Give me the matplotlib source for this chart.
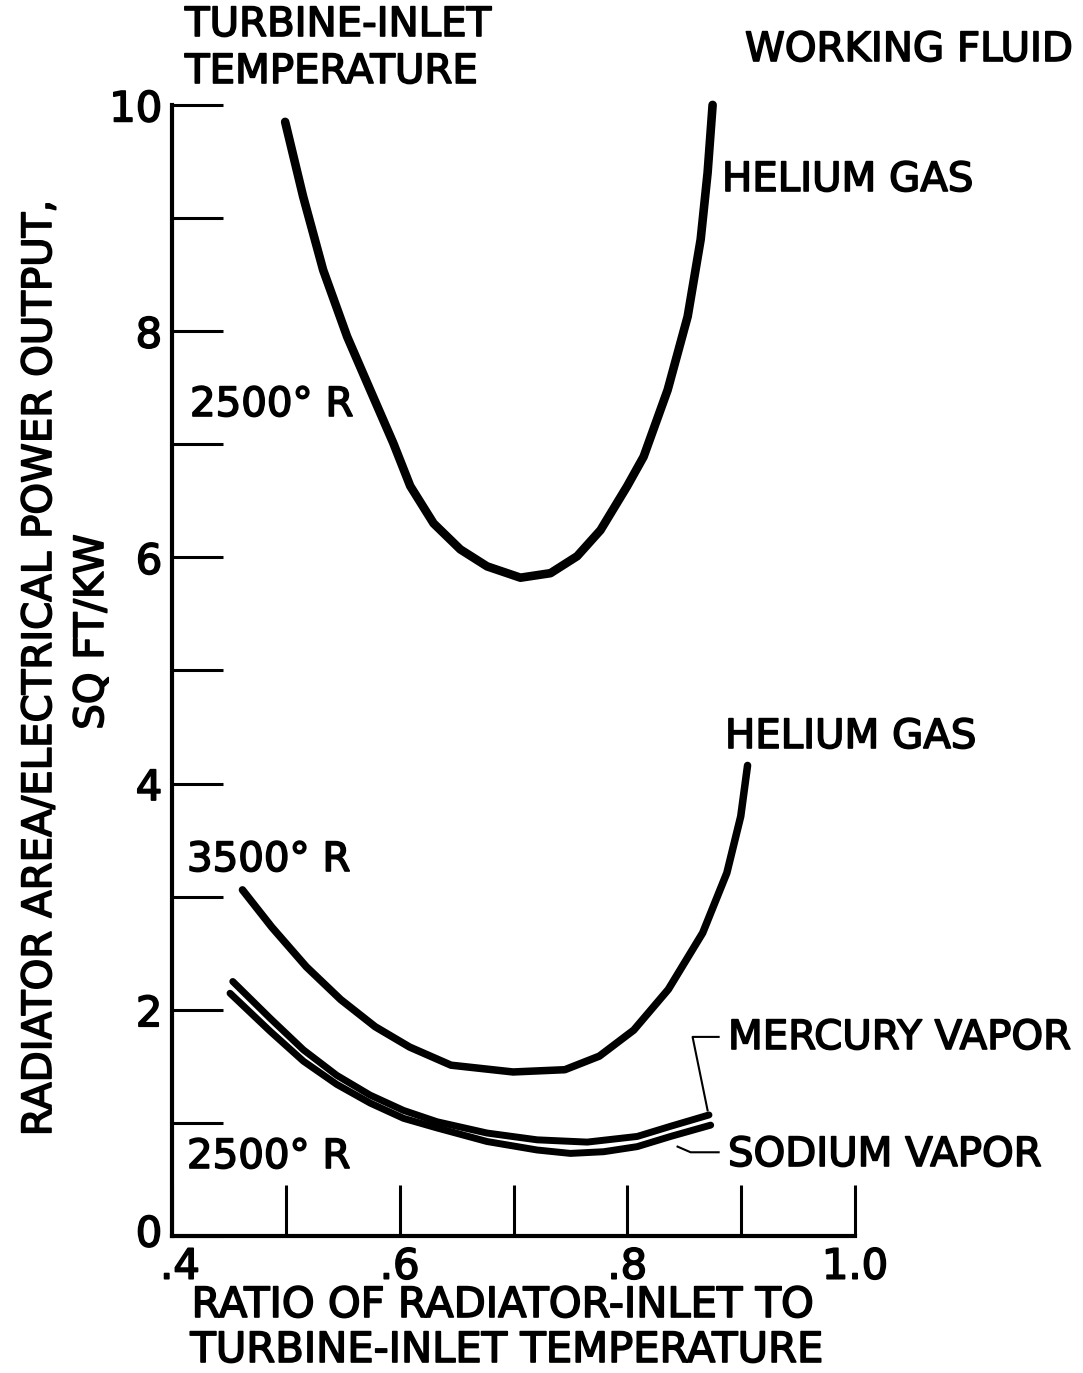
import numpy as np
import matplotlib
matplotlib.use("Agg")
from matplotlib import pyplot as plt
import matplotlib.patheffects as pe
import matplotlib.transforms as mtransforms

# curves: x = radiator-inlet / turbine-inlet temperature
# y = radiator area / electrical power output, sq ft/kw
he_2500_x = [0.4994, 0.5152, 0.5328, 0.5539, 0.5741, 0.5944, 0.6093, 0.6298,
             0.6533, 0.6768, 0.7061, 0.7325, 0.7559, 0.7764, 0.7999, 0.8143,
             0.8354, 0.8530, 0.8644, 0.8705, 0.8749]
he_2500_y = [9.85, 9.19, 8.54, 7.95, 7.48, 7.01, 6.63, 6.30,
             6.07, 5.92, 5.82, 5.86, 6.01, 6.24, 6.63, 6.89,
             7.48, 8.13, 8.81, 9.40, 10.0]

he_3500_x = [0.4619, 0.4877, 0.5180, 0.5482, 0.5785, 0.6088, 0.6451, 0.6996,
             0.7451, 0.7754, 0.8056, 0.8360, 0.8662, 0.8874, 0.8996, 0.9056]
he_3500_y = [3.06, 2.73, 2.38, 2.09, 1.85, 1.67, 1.51, 1.45,
             1.47, 1.59, 1.82, 2.18, 2.68, 3.21, 3.71, 4.16]

hg_x = [0.4534, 0.4862, 0.5155, 0.5448, 0.5741, 0.6034, 0.6328, 0.6768,
        0.7208, 0.7647, 0.8087, 0.8380, 0.8717]
hg_y = [2.25, 1.925, 1.645, 1.42, 1.245, 1.11, 1.01, 0.91,
        0.85, 0.83, 0.88, 0.97, 1.07]

na_x = [0.4510, 0.4862, 0.5155, 0.5448, 0.5741, 0.6034, 0.6328, 0.6768,
        0.7208, 0.7500, 0.7793, 0.8087, 0.8380, 0.8732]
na_y = [2.146, 1.81, 1.545, 1.34, 1.175, 1.04, 0.955, 0.835,
        0.76, 0.73, 0.745, 0.79, 0.88, 0.98]

x_ticks = [0.4, 0.5, 0.6, 0.7, 0.8, 0.9, 1.0]
x_labels = [".4", "", ".6", "", ".8", "", "1.0"]
y_ticks = list(range(0, 11))
y_labels = ["0", "", "2", "", "4", "", "6", "", "8", "", "10"]

plt.rcParams["font.family"] = ["DejaVu Sans"]
thick = [pe.withStroke(linewidth=1.2, foreground="black")]

fig = plt.figure(figsize=(10.83, 13.73), dpi=100)
ax = fig.add_axes([0.1588, 0.0998, 0.6307, 0.8238])
ax.set_xlim(0.4, 1.0)
ax.set_ylim(0, 10)

line_kw = dict(color="black", solid_capstyle="round", solid_joinstyle="round",
               clip_on=False)
ax.plot(he_2500_x, he_2500_y, lw=6.2, **line_kw)
ax.plot(he_3500_x, he_3500_y, lw=5.4, **line_kw)
ax.plot(na_x, na_y, lw=5.0, **line_kw)
ax.plot(hg_x, hg_y, lw=5.0, **line_kw)

for s in ["top", "right"]:
    ax.spines[s].set_visible(False)
for s in ["left", "bottom"]:
    ax.spines[s].set_linewidth(3)

ax.set_xticks(x_ticks)
ax.set_xticklabels(x_labels)
ax.set_yticks(y_ticks)
ax.set_yticklabels(y_labels)
ax.tick_params(axis="both", direction="in", length=37, width=2.2,
               labelsize=30, pad=7)
for lab in ax.get_xticklabels() + ax.get_yticklabels():
    lab.set_path_effects(thick)

# nudge ".4" a little right so it doesn't sit on the "0"
first = ax.get_xticklabels()[0]
first.set_transform(first.get_transform() +
                    mtransforms.ScaledTranslation(8 / 100, 0, fig.dpi_scale_trans))
# and lift "0" a bit
zero = ax.get_yticklabels()[0]
zero.set_transform(zero.get_transform() +
                   mtransforms.ScaledTranslation(0, 6 / 100, fig.dpi_scale_trans))

# leader lines for the two vapor curves
ax.plot([0.8705, 0.8573, 0.8802], [1.11, 1.76, 1.76], color="black", lw=1.5)
ax.plot([0.8441, 0.8556, 0.8802], [0.79, 0.74, 0.74], color="black", lw=1.5)

txt_kw = dict(fontsize=29, color="black", path_effects=thick)
fig.text(185 / 1083, 1 - 25 / 1373, "TURBINE-INLET", ha="left", va="center", **txt_kw)
fig.text(185 / 1083, 1 - 72 / 1373, "TEMPERATURE", ha="left", va="center", **txt_kw)
fig.text(745 / 1083, 1 - 50 / 1373, "WORKING FLUID", ha="left", va="center", **txt_kw)

labels = [
    (722, 180, "HELIUM GAS"),
    (190, 405, "2500° R"),
    (725, 737, "HELIUM GAS"),
    (187, 860, "3500° R"),
    (187, 1157, "2500° R"),
    (728, 1038, "MERCURY VAPOR"),
    (728, 1155, "SODIUM VAPOR"),
]
for px, py, s in labels:
    fig.text(px / 1083, 1 - py / 1373, s, ha="left", va="center", **txt_kw)

fig.text(40 / 1083, 1 - 668 / 1373, "RADIATOR AREA/ELECTRICAL POWER OUTPUT,",
         rotation=90, ha="center", va="center", **txt_kw)
fig.text(92 / 1083, 1 - 632 / 1373, "SQ FT/KW",
         rotation=90, ha="center", va="center", **txt_kw)

fig.text(503 / 1083, 1 - 1305 / 1373, "RATIO OF RADIATOR-INLET TO",
         ha="center", va="center", fontsize=30, color="black", path_effects=thick)
fig.text(507 / 1083, 1 - 1350 / 1373, "TURBINE-INLET TEMPERATURE",
         ha="center", va="center", fontsize=30, color="black", path_effects=thick)

fig.savefig("out.png", dpi=100, facecolor="white")
